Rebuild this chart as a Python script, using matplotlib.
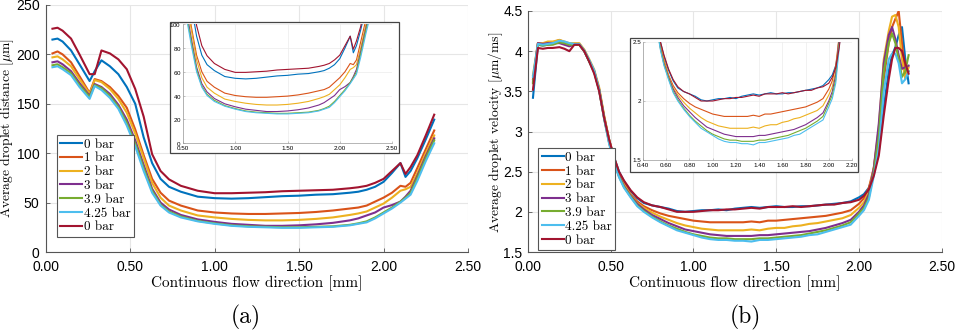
import matplotlib
matplotlib.use("Agg")
import matplotlib.pyplot as plt
from matplotlib.patches import Rectangle

plt.rcParams["mathtext.fontset"] = "cm"
plt.rcParams["axes.formatter.use_mathtext"] = True

SERIF = "cmr10"
SANS = "Liberation Sans"

labels = ["0 bar", "1 bar", "2 bar", "3 bar", "3.9 bar", "4.25 bar", "0 bar"]
colors = ["#0072BD", "#D95319", "#EDB120", "#7E2F8E", "#77AC30", "#4DBEEE", "#A2142F"]

# ---------------- (a) average droplet distance [um] ----------------
x_dist = [0.04, 0.07, 0.10, 0.15, 0.20, 0.26, 0.29, 0.33, 0.38, 0.43, 0.48, 0.53,
          0.58, 0.63, 0.68, 0.73, 0.80, 0.90, 1.00, 1.10, 1.20, 1.30, 1.40, 1.50,
          1.60, 1.70, 1.80, 1.85, 1.90, 1.95, 2.00, 2.05, 2.10, 2.13, 2.16, 2.20,
          2.25, 2.30]

dist_0bar = [215, 216, 213, 204, 190, 173, 183, 194, 188, 180, 167, 150,
             116, 90, 74, 66, 61, 56, 54.5, 54, 54.5, 55.5, 56.5, 57,
             58, 58.5, 60, 61, 63, 66, 71, 80, 90, 76, 82, 95,
             114, 134]
dist_1bar = [201, 203, 200, 192, 178, 161, 175, 173, 167, 158, 146, 124,
             98, 74, 60, 52, 47, 42, 40, 39, 38.5, 38.5, 39, 39.5,
             40.5, 42, 44, 45, 47, 51, 55, 60, 67, 66, 70, 85,
             104, 123]
dist_2bar = [197, 198, 195, 188, 175, 160, 174, 172, 165, 155, 141, 120,
             95, 70, 55, 47, 42, 37, 35, 33.5, 32.5, 32, 32, 32.5,
             33.5, 35, 37.5, 39, 41, 45, 49, 55, 62, 63.5, 66, 80,
             100, 118]
dist_3bar = [192, 193, 190, 183, 171, 158, 170, 167, 160, 149, 134, 113,
             88, 64, 50, 43, 37.5, 33, 30.5, 28.5, 27.5, 26.5, 26.5, 27,
             28, 29.5, 32, 34, 37, 40, 45, 47.5, 51, 56, 62, 77,
             97, 115]
dist_39bar = [189, 190, 187, 181, 169, 157, 169, 166, 158, 147, 131, 110,
              85, 62, 48, 41, 36, 31.5, 29, 27, 26, 25.5, 25, 25,
              25.5, 26, 27.5, 29, 31, 35, 40, 45, 51, 55, 60, 75,
              95, 113]
dist_425bar = [187, 188, 185, 179, 167, 155, 168, 164, 156, 145, 128, 107,
               82, 60, 47, 40, 35, 31, 28.5, 26.5, 25.5, 25, 24.5, 24.5,
               25, 25.5, 27, 28.5, 30, 34, 39, 44, 50, 54, 58, 72,
               92, 110]
dist_0bar_b = [226, 227, 224, 216, 200, 180, 180, 204, 201, 195, 185, 165,
               137, 99, 82, 73.5, 67, 62, 59.5, 59.5, 60, 60.5, 61.5, 62,
               62.5, 63, 64.5, 65.5, 67, 70, 74, 82, 90, 79, 86, 98,
               118, 139]
dist_series = [dist_0bar, dist_1bar, dist_2bar, dist_3bar, dist_39bar,
               dist_425bar, dist_0bar_b]

# ---------------- (b) average droplet velocity [um/ms] ----------------
x_vel = [0.03, 0.06, 0.09, 0.12, 0.15, 0.19, 0.22, 0.25, 0.28, 0.31, 0.34, 0.37,
         0.40, 0.43, 0.46, 0.49, 0.52, 0.55, 0.58, 0.62,
         0.66, 0.70, 0.75, 0.80, 0.85, 0.90, 0.95, 1.00, 1.05, 1.10, 1.15, 1.20,
         1.25, 1.30, 1.35, 1.40, 1.45, 1.50, 1.55, 1.60, 1.65, 1.70, 1.75, 1.80,
         1.85, 1.90, 1.95,
         2.00, 2.03, 2.06, 2.09, 2.12, 2.15, 2.18, 2.20, 2.22, 2.24, 2.26, 2.28,
         2.30]

vel_0bar = [3.42, 4.08, 4.07, 4.08, 4.09, 4.12, 4.10, 4.09, 4.08, 4.08, 4.00, 3.87,
            3.74, 3.52, 3.18, 2.90, 2.68, 2.50, 2.38, 2.26,
            2.17, 2.11, 2.08, 2.06, 2.04, 2.01, 2.00, 2.01, 2.02, 2.02, 2.03, 2.02,
            2.04, 2.05, 2.06, 2.05, 2.06, 2.07, 2.06, 2.06, 2.07, 2.07, 2.08, 2.09,
            2.10, 2.11, 2.13,
            2.18, 2.22, 2.30, 2.48, 2.75, 3.30, 3.75, 3.95, 4.05, 4.20, 4.30, 3.90,
            3.60]
vel_1bar = [3.65, 4.10, 4.09, 4.11, 4.11, 4.14, 4.11, 4.09, 4.08, 4.09, 4.01, 3.88,
            3.75, 3.53, 3.19, 2.90, 2.67, 2.48, 2.35, 2.22,
            2.13, 2.07, 2.02, 1.98, 1.95, 1.93, 1.91, 1.89, 1.88, 1.87, 1.87, 1.87,
            1.87, 1.87, 1.88, 1.87, 1.89, 1.89, 1.90, 1.91, 1.92, 1.93, 1.94, 1.95,
            1.97, 1.99, 2.02,
            2.10, 2.17, 2.30, 2.55, 3.00, 3.65, 4.10, 4.30, 4.40, 4.50, 4.10, 3.72,
            3.75]
vel_2bar = [3.70, 4.10, 4.10, 4.12, 4.12, 4.14, 4.12, 4.10, 4.10, 4.10, 4.02, 3.90,
            3.77, 3.55, 3.20, 2.90, 2.66, 2.47, 2.34, 2.21,
            2.11, 2.05, 1.99, 1.94, 1.90, 1.86, 1.83, 1.81, 1.79, 1.78, 1.77, 1.77,
            1.77, 1.77, 1.78, 1.77, 1.79, 1.80, 1.80, 1.82, 1.83, 1.85, 1.86, 1.88,
            1.90, 1.92, 1.96,
            2.05, 2.12, 2.25, 2.55, 3.05, 3.90, 4.25, 4.43, 4.45, 4.30, 3.90, 3.65,
            3.80]
vel_3bar = [3.62, 4.10, 4.09, 4.10, 4.10, 4.10, 4.08, 4.06, 4.08, 4.08, 4.00, 3.88,
            3.75, 3.52, 3.17, 2.87, 2.63, 2.45, 2.32, 2.20,
            2.10, 2.03, 1.96, 1.91, 1.86, 1.82, 1.78, 1.76, 1.74, 1.72, 1.71, 1.70,
            1.70, 1.70, 1.70, 1.71, 1.71, 1.72, 1.73, 1.74, 1.75, 1.76, 1.78, 1.80,
            1.83, 1.86, 1.90,
            2.00, 2.08, 2.22, 2.55, 3.10, 3.85, 4.20, 4.30, 4.15, 3.95, 3.78, 3.80,
            3.82]
vel_39bar = [3.60, 4.08, 4.07, 4.08, 4.08, 4.11, 4.10, 4.08, 4.08, 4.08, 4.00, 3.87,
             3.74, 3.51, 3.16, 2.86, 2.62, 2.44, 2.31, 2.19,
             2.08, 2.01, 1.94, 1.88, 1.83, 1.79, 1.75, 1.72, 1.70, 1.68, 1.67, 1.67,
             1.66, 1.66, 1.66, 1.67, 1.67, 1.68, 1.69, 1.70, 1.71, 1.73, 1.75, 1.77,
             1.80, 1.83, 1.87,
             1.98, 2.05, 2.18, 2.50, 2.95, 3.75, 4.10, 4.22, 4.10, 3.90, 3.68, 3.75,
             3.95]
vel_425bar = [3.68, 4.09, 4.08, 4.09, 4.10, 4.13, 4.12, 4.10, 4.09, 4.09, 4.01, 3.89,
              3.76, 3.52, 3.16, 2.85, 2.61, 2.43, 2.30, 2.18,
              2.07, 2.00, 1.93, 1.87, 1.82, 1.77, 1.74, 1.71, 1.68, 1.66, 1.65, 1.65,
              1.64, 1.64, 1.63, 1.65, 1.65, 1.66, 1.67, 1.68, 1.69, 1.71, 1.72, 1.75,
              1.78, 1.81, 1.84,
              1.95, 2.02, 2.15, 2.45, 2.80, 3.50, 3.90, 3.97, 3.97, 3.85, 3.60, 3.65,
              3.75]
vel_0bar_b = [3.52, 4.04, 4.03, 4.04, 4.04, 4.05, 4.03, 4.00, 4.08, 4.08, 4.00, 3.87,
              3.72, 3.50, 3.17, 2.90, 2.68, 2.50, 2.39, 2.27,
              2.18, 2.12, 2.08, 2.06, 2.03, 2.00, 2.00, 2.00, 2.01, 2.02, 2.02, 2.03,
              2.03, 2.04, 2.05, 2.04, 2.06, 2.06, 2.06, 2.07, 2.06, 2.07, 2.08, 2.09,
              2.09, 2.11, 2.12,
              2.15, 2.20, 2.28, 2.45, 2.70, 3.20, 3.65, 3.90, 4.04, 4.04, 4.00, 3.85,
              3.72]
vel_series = [vel_0bar, vel_1bar, vel_2bar, vel_3bar, vel_39bar, vel_425bar,
              vel_0bar_b]

# tick values and labels
a_xticks = [0.0, 0.5, 1.0, 1.5, 2.0, 2.5]
a_xticklabels = ["0.00", "0.50", "1.00", "1.50", "2.00", "2.50"]
a_yticks = [0, 50, 100, 150, 200, 250]
a_ins_xticks = [0.5, 1.0, 1.5, 2.0, 2.5]
a_ins_xticklabels = ["0.50", "1.00", "1.50", "2.00", "2.50"]
a_ins_yticks = [0, 20, 40, 60, 80, 100]

b_xticks = [0.0, 0.5, 1.0, 1.5, 2.0, 2.5]
b_xticklabels = ["0.00", "0.50", "1.00", "1.50", "2.00", "2.50"]
b_yticks = [1.5, 2.0, 2.5, 3.0, 3.5, 4.0, 4.5]
b_yticklabels = ["1.5", "2", "2.5", "3", "3.5", "4", "4.5"]
b_ins_xticks = [0.4, 0.6, 0.8, 1.0, 1.2, 1.4, 1.6, 1.8, 2.0, 2.2]
b_ins_xticklabels = ["0.40", "0.60", "0.80", "1.00", "1.20", "1.40", "1.60",
                     "1.80", "2.00", "2.20"]
b_ins_yticks = [1.5, 2.0, 2.5]
b_ins_yticklabels = ["1.5", "2", "2.5"]

W, H = 955, 331
fig = plt.figure(figsize=(W / 100, H / 100), dpi=100)


def px_axes(x0, y0, x1, y1):
    """Axes rectangle given pixel corners (top-left origin)."""
    return fig.add_axes([x0 / W, 1 - y1 / H, (x1 - x0) / W, (y1 - y0) / H])


def style_main(ax):
    ax.grid(True, color="#e6e6e6", lw=0.8)
    ax.set_axisbelow(True)
    for s in ["top", "right"]:
        ax.spines[s].set_visible(False)
    for s in ["left", "bottom"]:
        ax.spines[s].set_color("#555555")
        ax.spines[s].set_linewidth(0.8)
    ax.tick_params(direction="in", length=3, width=0.6, color="#555555",
                   labelsize=10, pad=4)
    ax.tick_params(axis="x", pad=5.5)
    for lab in ax.get_xticklabels() + ax.get_yticklabels():
        lab.set_fontfamily(SANS)


def style_inset(ax):
    ax.grid(True, color="#ececec", lw=0.5)
    ax.set_axisbelow(True)
    for s in ["top", "right"]:
        ax.spines[s].set_visible(False)
    for s in ["left", "bottom"]:
        ax.spines[s].set_color("#999999")
        ax.spines[s].set_linewidth(0.5)
    ax.tick_params(direction="in", length=1.5, width=0.4, color="#999999",
                   labelsize=4.5, pad=1)
    ax.tick_params(axis="x", pad=2.2)
    for lab in ax.get_xticklabels() + ax.get_yticklabels():
        lab.set_fontfamily(SANS)


def inset_box(x0, y0, x1, y1):
    fig.patches.append(Rectangle((x0 / W, 1 - y1 / H), (x1 - x0) / W,
                                 (y1 - y0) / H, transform=fig.transFigure,
                                 facecolor="white", edgecolor="#444444",
                                 lw=0.9, zorder=2))


def add_legend(ax, loc_px):
    x0, y0 = loc_px
    leg = ax.legend(loc="upper left",
                    bbox_to_anchor=(x0 / W, 1 - y0 / H),
                    bbox_transform=fig.transFigure,
                    prop={"family": SERIF, "size": 9.5},
                    frameon=True, fancybox=False, borderpad=0.25,
                    labelspacing=0.12, handlelength=1.7, handletextpad=0.1,
                    borderaxespad=0)
    fr = leg.get_frame()
    fr.set_edgecolor("#555555")
    fr.set_linewidth(0.8)
    fr.set_alpha(1)


# ---- panel (a)
ax1 = px_axes(45.7, 5, 468, 252)
for ys, c, lab in zip(dist_series, colors, labels):
    ax1.plot(x_dist, ys, color=c, lw=1.5, label=lab)
ax1.set_xlim(0, 2.5)
ax1.set_ylim(0, 250)
ax1.set_xticks(a_xticks, a_xticklabels)
ax1.set_yticks(a_yticks)
style_main(ax1)
ax1.set_xlabel("Continuous flow direction [mm]", family=SERIF, fontsize=11,
               labelpad=1)
ax1.set_ylabel(r"Average droplet distance [$\mu$m]", family=SERIF,
               fontsize=9.8)
ax1.yaxis.set_label_coords(16 / W, 1 - 128 / H, transform=fig.transFigure)
add_legend(ax1, (56.7, 135))

inset_box(170, 22, 399, 153)
ia = px_axes(183, 24.3, 392, 143)
ia.set_zorder(3)
for ys, c in zip(dist_series, colors):
    ia.plot(x_dist, ys, color=c, lw=0.8)
ia.set_xlim(0.5, 2.5)
ia.set_ylim(0, 100)
ia.set_xticks(a_ins_xticks, a_ins_xticklabels)
ia.set_yticks(a_ins_yticks)
style_inset(ia)

# ---- panel (b)
ax2 = px_axes(528, 11, 941.7, 252)
for ys, c, lab in zip(vel_series, colors, labels):
    ax2.plot(x_vel, ys, color=c, lw=1.5, label=lab)
ax2.set_xlim(0, 2.5)
ax2.set_ylim(1.5, 4.5)
ax2.set_xticks(b_xticks, b_xticklabels)
ax2.set_yticks(b_yticks, b_yticklabels)
style_main(ax2)
ax2.set_xlabel("Continuous flow direction [mm]", family=SERIF, fontsize=11,
               labelpad=1)
ax2.set_ylabel(r"Average droplet velocity [$\mu$m/ms]", family=SERIF,
               fontsize=9.8)
ax2.yaxis.set_label_coords(505 / W, 1 - 132 / H, transform=fig.transFigure)
add_legend(ax2, (538.3, 148.3))

inset_box(630, 38.3, 858.3, 171.7)
ib = px_axes(643, 41.7, 852, 160.3)
ib.set_zorder(3)
for ys, c in zip(vel_series, colors):
    ib.plot(x_vel, ys, color=c, lw=0.8)
ib.set_xlim(0.4, 2.2)
ib.set_ylim(1.5, 2.5)
ib.set_xticks(b_ins_xticks, b_ins_xticklabels)
ib.set_yticks(b_ins_yticks, b_ins_yticklabels)
style_inset(ib)

# panel captions
fig.text(246 / W, 1 - 317 / H, "(a)", family=SERIF, fontsize=17,
         ha="center", va="center")
fig.text(745 / W, 1 - 317 / H, "(b)", family=SERIF, fontsize=17,
         ha="center", va="center")

fig.savefig("out.png", dpi=100)
